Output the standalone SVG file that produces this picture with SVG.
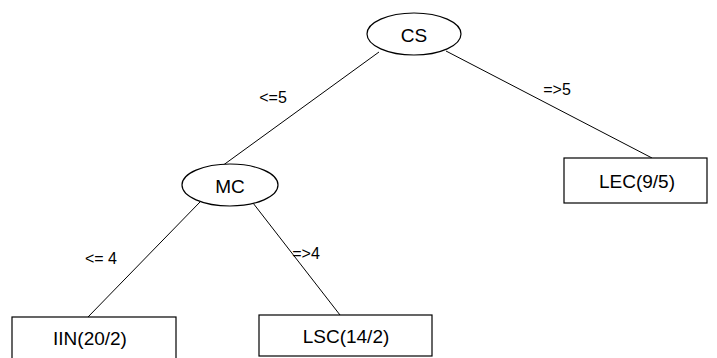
<svg xmlns="http://www.w3.org/2000/svg" width="717" height="358" viewBox="0 0 717 358">
  <style>
    .shape { fill: #ffffff; stroke: #000000; stroke-width: 1.2; }
    .edge { stroke: #000000; stroke-width: 1; fill: none; }
    .node-text { font-family: "Liberation Sans", Arial, sans-serif; font-size: 19px; fill: #000000; text-anchor: middle; dominant-baseline: central; }
    .edge-text { font-family: "Liberation Sans", Arial, sans-serif; font-size: 16px; fill: #000000; text-anchor: middle; dominant-baseline: central; }
  </style>
  <rect width="717" height="358" fill="#ffffff"/>

  <!-- connectors -->
  <g id="edges">
    <line class="edge" x1="379" y1="52" x2="222" y2="166"/>
    <line class="edge" x1="446" y1="51" x2="652" y2="158"/>
    <line class="edge" x1="200" y1="202" x2="88" y2="317"/>
    <line class="edge" x1="253" y1="203" x2="340" y2="315"/>
    <text class="edge-text" x="273" y="97">&lt;=5</text>
    <text class="edge-text" x="557" y="89">=&gt;5</text>
    <text class="edge-text" x="101" y="258">&lt;= 4</text>
    <text class="edge-text" x="306" y="253">=&gt;4</text>
  </g>

  <g id="node-cs">
    <ellipse class="shape" cx="414" cy="34" rx="47" ry="21"/>
    <text class="node-text" x="414" y="35">CS</text>
  </g>

  <g id="node-mc">
    <ellipse class="shape" cx="230" cy="185" rx="48" ry="21"/>
    <text class="node-text" x="230" y="186">MC</text>
  </g>

  <g id="node-lec">
    <rect class="shape" x="564" y="158" width="143" height="45"/>
    <text class="node-text" x="637" y="181">LEC(9/5)</text>
  </g>

  <g id="node-iin">
    <rect class="shape" x="12" y="317" width="164" height="45"/>
    <text class="node-text" x="90" y="338">IIN(20/2)</text>
  </g>

  <g id="node-lsc">
    <rect class="shape" x="259" y="315" width="173" height="41"/>
    <text class="node-text" x="346" y="336">LSC(14/2)</text>
  </g>
</svg>
